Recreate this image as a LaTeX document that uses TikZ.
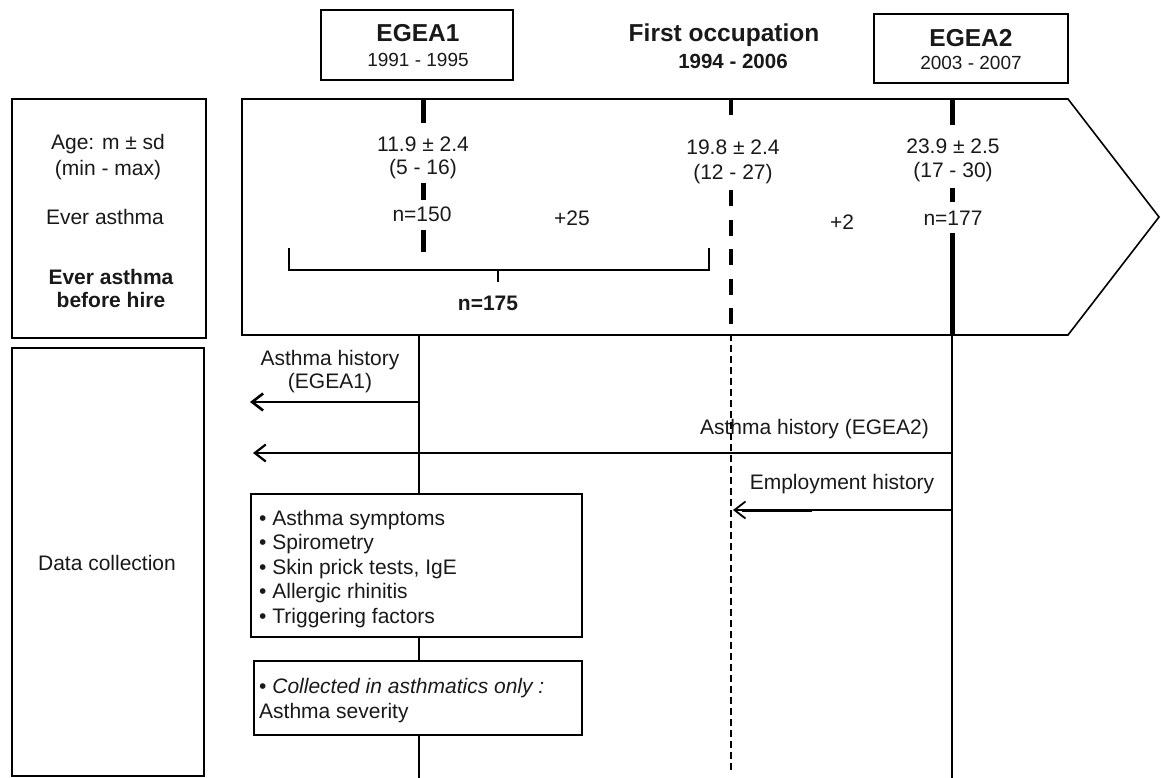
\documentclass[tikz,border=0pt]{standalone}
\usepackage{fontspec}
\setmainfont{Liberation Sans}
\usetikzlibrary{arrows.meta}
\tikzset{
  frame/.style={draw, line width=1.6pt, inner sep=0pt},
  txt/.style={font=\fontsize{21}{24}\selectfont, inner sep=0pt, anchor=base, text=black!90},
  btxt/.style={font=\bfseries\fontsize{21}{24}\selectfont, inner sep=0pt, anchor=base, text=black!90},
  ttl/.style={font=\bfseries\fontsize{24.5}{28}\selectfont, inner sep=0pt, anchor=base, text=black!90},
  yrs/.style={font=\fontsize{19}{22}\selectfont, inner sep=0pt, anchor=base, text=black!90},
  thick line/.style={line width=5pt},
  life/.style={line width=1.5pt},
  dlife/.style={line width=1.3pt, dash pattern=on 7pt off 4pt},
  arr/.style={-{Straight Barb[length=11pt,width=17pt]}, line width=2.2pt},
}
\begin{document}
\begin{tikzpicture}[x=1pt,y=-1pt]
\useasboundingbox (0,0) rectangle (1161,778);

% --- header boxes
\node[frame, minimum width=192pt, minimum height=70pt] (egea1) at (417,45) {};
\node[ttl] (egea1t) at (418,42) {EGEA1};
\node[yrs] (egea1y) at (418,67) {1991 - 1995};

\node[ttl] (occt) at (724,42) {First occupation};
\node[btxt, font=\bfseries\fontsize{20.5}{24}\selectfont] (occy) at (733,68.5) {1994 - 2006};

\node[frame, minimum width=194pt, minimum height=69pt] (egea2) at (971,48.5) {};
\node[ttl] (egea2t) at (971,47) {EGEA2};
\node[yrs] (egea2y) at (971,70) {2003 - 2007};

% --- left label boxes
\node[frame, minimum width=194pt, minimum height=239pt] (lbl) at (109,218.5) {};
\node[txt] (age) at (108,150) {Age: m ± sd};
\node[txt] (minmax) at (108,175.5) {(min - max)};
\node[txt] (ever) at (105,224) {Ever asthma};
\node[btxt] (ever2) at (111,284) {Ever asthma};
\node[btxt] (hire) at (111,307) {before hire};

\node[frame, minimum width=192pt, minimum height=428pt] (data) at (108,562) {};
\node[txt] (datat) at (107,570) {Data collection};

% --- big timeline arrow
\draw[line width=1.6pt, line join=miter] (242,99) -- (1068,99) -- (1159,217) -- (1068,335) -- (242,335) -- cycle;

% timeline coordinates
\coordinate (e1) at (423,99);
\coordinate (oc) at (731,99);
\coordinate (e2) at (952,99);

% EGEA1 thick segments
\draw[thick line] (e1) -- ++(0,24);
\draw[thick line] (423,183) -- (423,200);
\draw[thick line] (423,230) -- (423,252);
% first occupation
\draw[line width=4pt] (oc) -- ++(0,16);
\draw[line width=4pt, dash pattern=on 16pt off 13.5pt] (731,190) -- (731,334);
% EGEA2 thick segments
\draw[thick line] (e2) -- ++(0,26);
\draw[thick line] (952,188) -- (952,202);
\draw[thick line] (952,233) -- (952,335);

% texts inside timeline
\node[txt] (a1) at (423,152) {11.9 ± 2.4};
\node[txt] (r1) at (423,174.5) {(5 - 16)};
\node[txt] (n1) at (422,221) {n=150};
\node[txt] (a2) at (733,155) {19.8 ± 2.4};
\node[txt] (r2) at (733,179.5) {(12 - 27)};
\node[txt] (a3) at (953,154) {23.9 ± 2.5};
\node[txt] (r3) at (953,177.5) {(17 - 30)};
\node[txt] (n3) at (953,225) {n=177};
\node[txt] (p25) at (572,225) {+25};
\node[txt] (p2) at (842,229) {+2};

% bracket
\coordinate (brL) at (289,248);
\coordinate (brR) at (709,248);
\draw[line width=1.6pt] (brL) -- (289,270) -- (709,270) -- (brR);
\draw[line width=1.6pt] (498,270) -- (498,282);
\node[btxt] (n175) at (488,310) {n=175};

% --- lower part: data collection boxes
\node[frame, minimum width=331pt, minimum height=143pt] (box1) at (416.5,565.5) {};
\foreach \t [count=\i] in {Asthma symptoms, Spirometry, {Skin prick tests, IgE}, Allergic rhinitis, Triggering factors}{
  \node[txt, anchor=base west] (b1l\i) at (259, 525+24.5*\i-24.5) {• \t};
}
\node[frame, minimum width=328pt, minimum height=74pt] (box2) at (418,698) {};
\node[txt, anchor=base west] (b2l1) at (259,693) {• \textit{Collected in asthmatics only :}};
\node[txt, anchor=base west] (b2l2) at (259,718) {Asthma severity};

% lifelines
\coordinate (l1) at (419,335);
\coordinate (l1end) at (419,778);
\draw[life] (l1) -- (l1 |- box1.north);
\draw[life] (l1 |- box1.south) -- (l1 |- box2.north);
\draw[life] (l1 |- box2.south) -- (l1end);
\coordinate (l2) at (731,334);
\coordinate (l2end) at (731,770);
\draw[dlife] (l2) -- (l2end);
\coordinate (l3) at (952,335);
\coordinate (l3end) at (952,778);
\draw[life] (l3) -- (l3end);

% arrows
\coordinate (h1s) at (419,402);
\coordinate (h1e) at (250,402);
\draw[arr, line width=2.6pt] (h1s) -- (h1e);
\node[txt] (h1a) at (330,365) {Asthma history};
\node[txt] (h1b) at (330,388.5) {(EGEA1)};

\coordinate (h2s) at (952,453);
\coordinate (h2e) at (253,453);
\draw[arr] (h2s) -- (h2e);
\node[txt, anchor=base east] (h2t) at (929,434) {Asthma history (EGEA2)};

\coordinate (h3s) at (952,510);
\coordinate (h3e) at (733,510);
\coordinate (h3m) at (812,510);
\draw[arr, line width=1.8pt] (h3s) -- (h3e);
\draw[line width=3pt] (h3m) -- (742,510);
\node[txt] (h3t) at (842,489) {Employment history};

\end{tikzpicture}
\end{document}
